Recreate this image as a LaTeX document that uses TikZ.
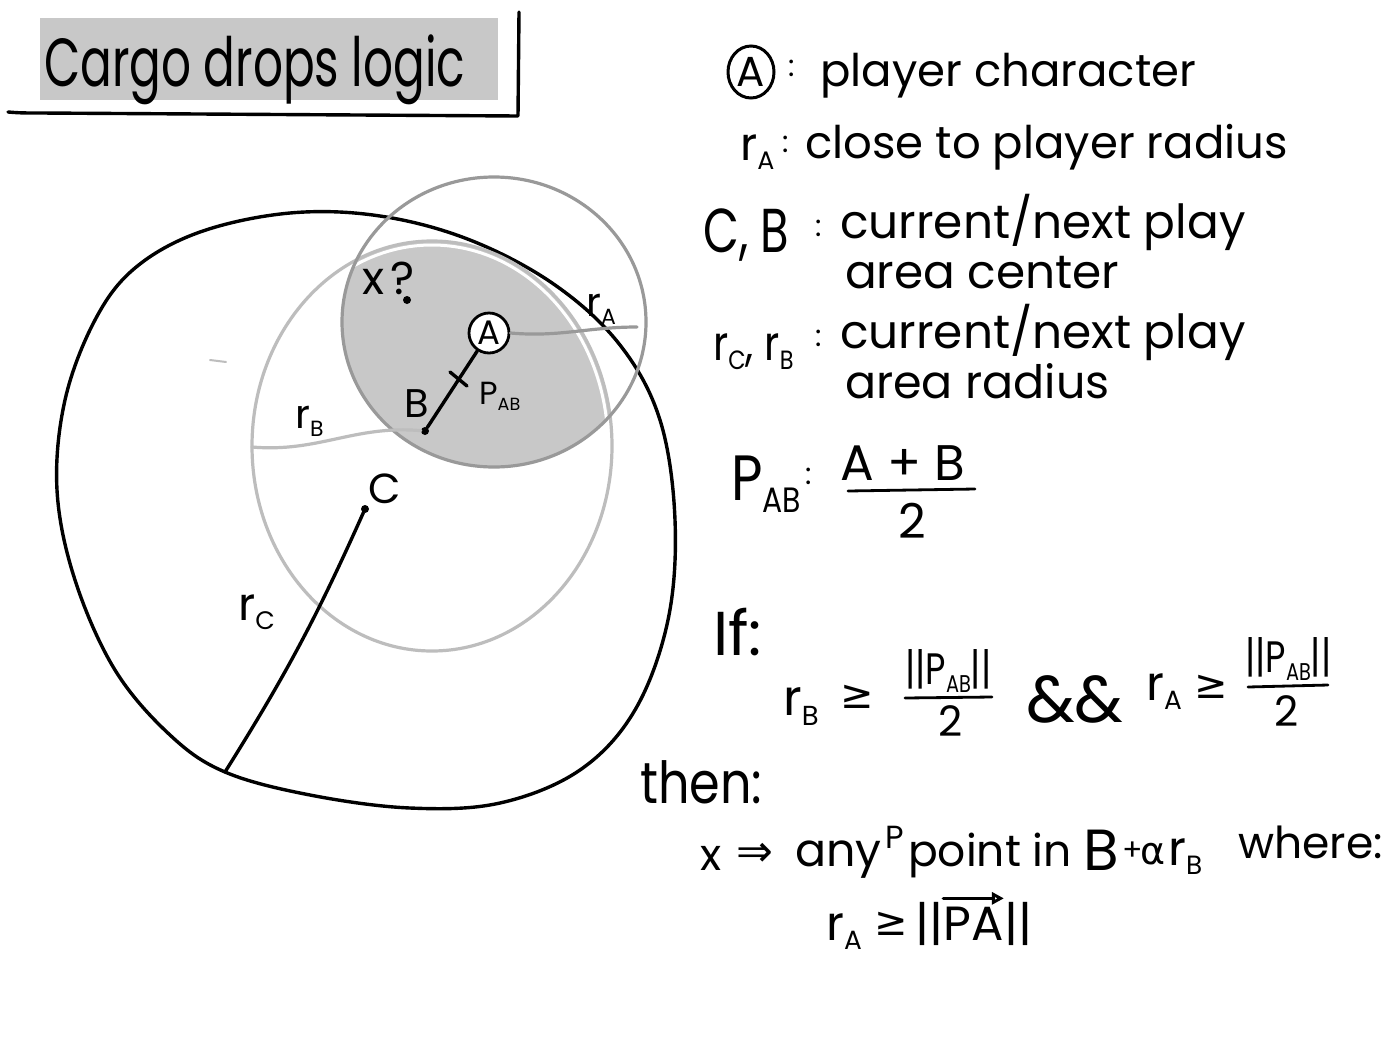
\documentclass[tikz,border=0pt]{standalone}
\usepackage{fontspec}
\setmainfont{Poppins}
\newfontfamily\symfont{DejaVu Sans}
\usetikzlibrary{arrows.meta,shapes.geometric}
\definecolor{shadegray}{HTML}{C8C8C8}
\definecolor{agray}{HTML}{999999}
\definecolor{bgray}{HTML}{BDBDBD}
\newcommand\sbs[1]{\raisebox{-0.2em}{\scalebox{0.55}{#1}}}
\newcommand\fs[1]{\fontsize{#1}{#1}\selectfont}
\newcommand\cnd[1]{\scalebox{0.8}[1]{#1}}
\begin{document}
\begin{tikzpicture}[x=1pt,y=-1pt,
  ink/.style={draw=black,line width=3.4pt,line cap=round,line join=round},
  aline/.style={draw=agray,line width=3.2pt,line cap=round},
  bline/.style={draw=bgray,line width=3.2pt,line cap=round},
  txt/.style={anchor=base west,inner sep=0pt,font=\fs{42}},
  dotnode/.style={circle,fill=black,inner sep=0pt,minimum size=8pt},
  fracbar/.style={draw=black,line width=2.8pt,line cap=round}]
\fill[white] (0,0) rectangle (1400,1050);
\useasboundingbox (0,0) rectangle (1400,1050);

% title
\fill[shadegray] (40,18) rectangle (498,100);
\node[txt,font=\fs{68}] (title) at (44,86) {\scalebox{0.69}[1]{Cargo drops logic}};
\coordinate (br1) at (8,112);
\coordinate (br2) at (518,116);
\coordinate (br3) at (519,12);
\draw[ink] (br1) to[out=-5,in=180] (40,113) -- (br2) -- (br3);

% geometry
\coordinate (Bc) at (432,446);
\coordinate (Ac) at (494,322);
\coordinate (rcEnd) at (225,772);
\draw[ink] plot[smooth cycle,tension=0.6] coordinates {
  (rcEnd) (170,735) (115,670) (75,580) (57,490) (65,400) (95,320) (135,268)
  (200,232) (290,213) (380,216) (470,240) (555,285) (620,345) (660,420)
  (675,520) (668,620) (635,710) (580,770) (500,803) (410,808) (310,795)};
\begin{scope}
  \clip (Ac) ellipse [x radius=152, y radius=145];
  \fill[shadegray] (Bc) ellipse [x radius=180, y radius=205];
  \draw[white,line width=3pt] (Bc) ellipse [x radius=176, y radius=201];
\end{scope}
\draw[bline] (Bc) ellipse [x radius=180, y radius=205];
\draw[aline] (Ac) ellipse [x radius=152, y radius=145];
\draw[bline,line width=2pt] (210,360) -- (226,362);

% points
\node[dotnode] (Bdot) at (425,431) {};
\node[dotnode] (Cdot) at (365,509) {};
\node[dotnode] (Xdot) at (407,300) {};
\node[draw=black,line width=2.8pt,circle,fill=white,minimum size=40pt,inner sep=0pt,font=\fs{34}] (Anode) at (489,333) {A};

% radii
\coordinate (rAend) at (637,327);
\coordinate (rBstart) at (252,447);
\draw[aline] (Anode.east) to[out=-5,in=180] (rAend);
\draw[bline] (rBstart) to[out=-5,in=175] (Bdot);
\draw[ink] (Bdot) -- (Anode);
\coordinate (tk1) at (450,372);
\coordinate (tk2) at (467,386);
\draw[ink] (tk1) -- (tk2);
\draw[ink] (Cdot) to[bend left=4] (rcEnd);

% diagram labels
\node[txt,font=\fs{46}] (xq) at (362,294) {x\hspace{6pt}?};
\node[txt,font=\fs{40}] (rAl) at (586,316) {r\sbs{A}};
\node[txt,font=\fs{40}] (rBl) at (295,428) {r\sbs{B}};
\node[txt,font=\fs{40}] (Bl) at (404,417) {B};
\node[txt,font=\fs{32}] (Pl) at (479,404) {P\sbs{AB}};
\node[txt,font=\fs{42}] (Cl) at (368,503) {C};
\node[txt,font=\fs{46}] (rCl) at (238,620) {r\sbs{C}};

% legend
\node[draw=black,line width=3pt,ellipse,inner sep=0pt,minimum width=46pt,minimum height=52pt,font=\fs{42}] (legA) at (751,72) {A};
\node[txt,font=\fs{30}] (c1) at (788,76) {:};
\node[txt,font=\fs{45}] (l1) at (820,86) {player character};
\node[txt,font=\fs{46}] (l2r) at (740,160) {r\sbs{A}};
\node[txt,font=\fs{30}] (c2) at (782,152) {:};
\node[txt,font=\fs{45}] (l2) at (805,158) {close to player radius};
\node[txt,font=\fs{62}] (l3cb) at (703,252) {\scalebox{0.75}[1]{C, B}};
\node[txt,font=\fs{30}] (c3) at (815,236) {:};
\node[txt,font=\fs{47}] (l3) at (840,238) {current/next play};
\node[txt,font=\fs{47}] (l3b) at (845,288) {area center};
\node[txt,font=\fs{48}] (l4r) at (713,360) {\scalebox{0.85}[1]{r\sbs{C}, r\sbs{B}}};
\node[txt,font=\fs{30}] (c4) at (815,346) {:};
\node[txt,font=\fs{47}] (l4) at (840,348) {current/next play};
\node[txt,font=\fs{46}] (l4b) at (845,398) {area radius};

% P_AB definition
\node[txt,font=\fs{64}] (pab) at (731,500) {\scalebox{0.85}[1]{P\sbs{AB}}};
\node[txt,font=\fs{30}] (c5) at (805,484) {:};
\node[txt,font=\fs{50}] (num1) at (840,480) {A + B};
\coordinate (bar1l) at (848,491);
\coordinate (bar1r) at (975,489);
\draw[fracbar] (bar1l) -- (bar1r);
\node[txt,font=\fs{48}] (den1) at (898,538) {2};

% condition
\node[txt,font=\fs{62}] (if) at (713,655) {If:};
\node[txt,font=\fs{50}] (cr1) at (783,715) {r\sbs{B}};
\node[txt,font=\fs{40}] (ge1) at (840,708) {\symfont ≥};
\node[txt,font=\fs{44}] (f1n) at (905,684) {\cnd{||P\sbs{AB}||}};
\coordinate (bar2l) at (905,698);
\coordinate (bar2r) at (992,697);
\draw[fracbar] (bar2l) -- (bar2r);
\node[txt,font=\fs{42}] (f1d) at (938,736) {2};
\node[txt,font=\fs{66}] (amp) at (1026,722) {\&\&};
\node[txt,font=\fs{48}] (cr2) at (1146,700) {r\sbs{A}};
\node[txt,font=\fs{40}] (ge2) at (1194,698) {\symfont ≥};
\node[txt,font=\fs{44}] (f2n) at (1245,672) {\cnd{||P\sbs{AB}||}};
\coordinate (bar3l) at (1248,687);
\coordinate (bar3r) at (1328,685);
\draw[fracbar] (bar3l) -- (bar3r);
\node[txt,font=\fs{42}] (f2d) at (1274,726) {2};

% conclusion
\node[txt,font=\fs{58}] (then) at (640,803) {\scalebox{0.85}[1]{then:}};
\node[txt,font=\fs{44}] (xv) at (700,870) {x};
\node[txt,font=\fs{44}] (impl) at (736,866) {\symfont ⇒};
\node[txt,font=\fs{46}] (any) at (795,866) {any};
\node[txt,font=\fs{32}] (psup) at (885,848) {P};
\node[txt,font=\fs{44}] (pointin) at (908,866) {point in};
\node[txt,font=\fs{58}] (bB) at (1083,870) {B};
\node[txt,font=\fs{30}] (plus) at (1122,860) {+};
\node[txt,font=\fs{38}] (alpha) at (1140,864) {\symfont α};
\node[txt,font=\fs{48}] (rBw) at (1168,865) {r\sbs{B}};
\node[txt,font=\fs{44}] (where) at (1238,858) {where:};
\node[txt,font=\fs{48}] (rAw) at (826,940) {r\sbs{A}};
\node[txt,font=\fs{40}] (ge3) at (874,935) {\symfont ≥};
\node[txt,font=\fs{48}] (bars1) at (915,940) {||};
\node[txt,font=\fs{48}] (pa) at (bars1.base east) {PA};
\node[txt,font=\fs{48}] (bars2) at (pa.base east) {||};
\draw[ink,-{Triangle[open,length=12pt,width=12pt]}] ([yshift=8pt]pa.north west) -- ([yshift=8pt]pa.north east);
\end{tikzpicture}
\end{document}
